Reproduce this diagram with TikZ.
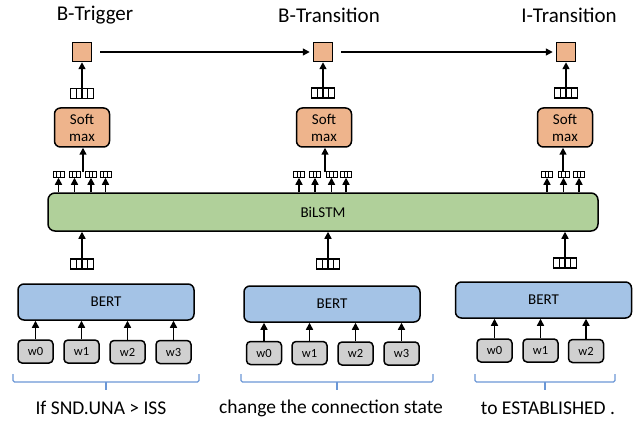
\documentclass[tikz,border=0pt]{standalone}
\usepackage{fontspec}
\setmainfont{Carlito}
\usetikzlibrary{arrows.meta,calc}
\definecolor{smfill}{HTML}{EEB48C}
\definecolor{lstmfill}{HTML}{B0D09A}
\definecolor{bertfill}{HTML}{A4C3E6}
\definecolor{wfill}{HTML}{D0D0D0}
\definecolor{bracecol}{HTML}{6B97D6}
\tikzset{
  x=1pt, y=-1pt,
  lw/.style={line width=1.5pt},
  arr/.style={line width=1.5pt, -{Triangle[length=7pt,width=7pt]}},
  title/.style={font=\fontsize{21}{23}\selectfont, inner sep=0pt},
  caption/.style={font=\fontsize{19.5}{22}\selectfont, inner sep=0pt},
  outsq/.style={draw, lw, fill=smfill, minimum width=19pt, minimum height=19pt, inner sep=0pt},
  smbox/.style={draw, lw, fill=smfill, rounded corners=6pt, minimum width=55pt, minimum height=39pt, inner sep=0pt, align=center, font=\fontsize{15}{17}\selectfont},
  lstmbox/.style={draw, lw, fill=lstmfill, rounded corners=7pt, minimum width=550pt, minimum height=38pt, inner sep=0pt, font=\fontsize{15}{17}\selectfont},
  bertbox/.style={draw, lw, fill=bertfill, rounded corners=6pt, minimum width=176pt, minimum height=36pt, inner sep=0pt, font=\fontsize{15}{17}\selectfont},
  wbox/.style={draw, lw, fill=wfill, rounded corners=4pt, minimum width=35pt, minimum height=23pt, inner sep=0pt, font=\fontsize{12.5}{14}\selectfont},
  vecbig/.style={draw, line width=1.2pt, fill=white, minimum width=23pt, minimum height=10pt, inner sep=0pt,
    path picture={\foreach \i in {1,2,3}{\draw[line width=1.1pt] ($(path picture bounding box.south west)!\i/4!(path picture bounding box.south east)$) -- ($(path picture bounding box.north west)!\i/4!(path picture bounding box.north east)$);}}},
  vecsmall/.style={draw, line width=1pt, fill=white, minimum width=11pt, minimum height=5.5pt, inner sep=0pt,
    path picture={\foreach \i in {1,2}{\draw[line width=1pt] ($(path picture bounding box.south west)!\i/3!(path picture bounding box.south east)$) -- ($(path picture bounding box.north west)!\i/3!(path picture bounding box.north east)$);}}},
  bracestyle/.style={draw=bracecol, line width=1.3pt, rounded corners=1.5pt}
}
\begin{document}
\begin{tikzpicture}
\useasboundingbox (0,0) rectangle (644,422);

% titles
\node[title] (t1) at (95,15) {B-Trigger};
\node[title] (t2) at (329,15) {B-Transition};
\node[title] (t3) at (569,15) {I-Transition};

% output squares
\node[outsq] (sq1) at (82,52) {};
\node[outsq] (sq2) at (323,52) {};
\node[outsq] (sq3) at (566,52) {};
\draw[arr] ($(sq1.east)+(8,0)$) -- ($(sq2.west)+(-3,0)$);
\draw[arr] ($(sq2.east)+(8,0)$) -- ($(sq3.west)+(-3,0)$);

% vectors under squares
\node[vecbig] (ov1) at (82,93.5) {};
\node[vecbig] (ov2) at (323,93) {};
\node[vecbig] (ov3) at (566,93) {};
\draw[arr] (ov1.north) -- (sq1.south);
\draw[arr] (ov2.north) -- (sq2.south);
\draw[arr] (ov3.north) -- (sq3.south);

% softmax
\node[smbox] (sm1) at (82,127.5) {Soft\\max};
\node[smbox] (sm2) at (324,127.5) {Soft\\max};
\node[smbox] (sm3) at (565,127.5) {Soft\\max};

% BiLSTM
\node[lstmbox] (lstm) at (323,212) {BiLSTM};

% small vectors on BiLSTM
\foreach \n/\x in {a1/58.5,a2/74.5,a3/91,a4/105.5,b1/299,b2/315,b3/331.5,b4/346,c1/547,c2/563.5,c3/579}{
  \node[vecsmall] (sv\n) at (\x,174.5) {};
  \draw[arr] (sv\n |- lstm.north) -- (sv\n.south);
}
\coordinate (in1) at (83,171.5);
\coordinate (in2) at (325,171.5);
\coordinate (in3) at (563,171.5);
\draw[arr] (in1) -- (in1 |- sm1.south);
\draw[arr] (in2) -- (in2 |- sm2.south);
\draw[arr] (in3) -- (in3 |- sm3.south);

% vectors under BiLSTM
\node[vecbig] (bv1) at (82,264) {};
\node[vecbig] (bv2) at (328,264) {};
\node[vecbig] (bv3) at (565,263) {};
\draw[arr] (bv1.north) -- (bv1 |- lstm.south);
\draw[arr] (bv2.north) -- (bv2 |- lstm.south);
\draw[arr] (bv3.north) -- (bv3 |- lstm.south);

% BERT
\node[bertbox] (bert1) at (106,302) {BERT};
\node[bertbox] (bert2) at (332,304) {BERT};
\node[bertbox] (bert3) at (543.5,300) {BERT};

% words
\node[wbox] (w10) at (35.5,351.5) {w0};
\node[wbox] (w11) at (81.5,351.5) {w1};
\node[wbox] (w12) at (127.5,352) {w2};
\node[wbox] (w13) at (173.5,352) {w3};
\node[wbox] (w20) at (264,353) {w0};
\node[wbox] (w21) at (309.5,353) {w1};
\node[wbox] (w22) at (355.5,353.5) {w2};
\node[wbox] (w23) at (401.5,353.5) {w3};
\node[wbox] (w30) at (494.5,350.5) {w0};
\node[wbox] (w31) at (540.5,350.5) {w1};
\node[wbox] (w32) at (586,351) {w2};
\foreach \w/\b in {w10/bert1,w11/bert1,w12/bert1,w13/bert1,w20/bert2,w21/bert2,w22/bert2,w23/bert2,w30/bert3,w31/bert3,w32/bert3}{
  \draw[arr] (\w.north) -- (\w |- \b.south);
}

% braces
\draw[bracestyle] (13,374) -- (13,382) -- (199,382) -- (199,374);
\draw[bracestyle] (106,382) -- (106,390);
\draw[bracestyle] (241,374) -- (241,382) -- (433,382) -- (433,374);
\draw[bracestyle] (337,382) -- (337,390);
\draw[bracestyle] (475,374) -- (475,382) -- (615,382) -- (615,374);
\draw[bracestyle] (545,382) -- (545,390);

% captions
\node[caption] (c1) at (101,408) {If SND.UNA > ISS};
\node[caption] (c2) at (331,408) {change the connection state};
\node[caption] (c3) at (548,408) {to ESTABLISHED .};
\end{tikzpicture}
\end{document}
